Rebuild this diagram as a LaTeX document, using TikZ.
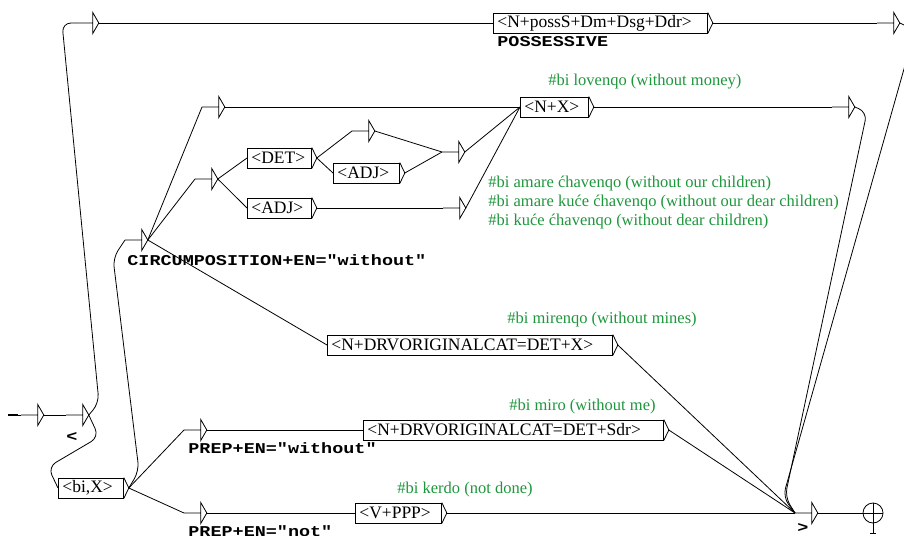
\documentclass[tikz,border=0pt]{standalone}
\usepackage{fontspec}
\setmainfont{Liberation Serif}
\newfontfamily\tagfont[FakeStretch=1.23]{Liberation Mono}
\usetikzlibrary{positioning}
\definecolor{cmtgreen}{RGB}{30,150,60}

\begin{document}
\begin{tikzpicture}[
				x=1pt, y=-1pt,
				line width=0.8pt,
				box/.style={draw, rectangle, anchor=west, minimum height=20pt, inner xsep=4pt, inner ysep=0pt,
					text width=#1, align=left, font=\fontsize{17.5}{20}\selectfont},
				eps/.style={rectangle, anchor=west, minimum width=22pt, minimum height=20pt, inner sep=0pt},
				tag/.style={anchor=base west, inner sep=0pt, font=\fontsize{15}{18}\selectfont\tagfont\bfseries},
				cmt/.style={anchor=base west, inner sep=0pt, text=cmtgreen, font=\fontsize{16.5}{19}\selectfont},
				loop/.style={rounded corners=9pt},
				final/.style={circle, draw, minimum size=20pt, inner sep=0pt}
				]
				\useasboundingbox (0,0) rectangle (904,535);
				
				% boxes
				\node[box=206pt] (poss) at (493,23) {<N+possS+Dm+Dsg+Ddr>};
				\node[box=60pt] (nx) at (520,107) {<N+X>};
				\node[box=56pt] (det) at (247,158) {<DET>};
				\node[box=56pt] (adj) at (247,208) {<ADJ>};
				\node[box=58pt] (adjb) at (333,173) {<ADJ>};
				\node[box=277pt] (drvx) at (327,345) {<N+DRVORIGINALCAT=DET+X>};
				\node[box=292pt] (drvs) at (363,430) {<N+DRVORIGINALCAT=DET+Sdr>};
				\node[box=57pt] (bix) at (58,488) {<bi,X>};
				\node[box=78pt] (vppp) at (355,513) {<V+PPP>};
				
				% empty boxes
				\node[eps] (ti) at (21,415) {};
				\node[eps] (tl) at (66,415) {};
				\node[eps] (tp) at (76,23) {};
				\node[eps] (tc) at (125,240) {};
				\node[eps] (tu) at (202,107) {};
				\node[eps] (td) at (195,179) {};
				\node[eps] (ta) at (352,131) {};
				\node[eps] (tj) at (442,152) {};
				\node[eps] (tb) at (443,208) {};
				\node[eps] (tr) at (832,107) {};
				\node[eps] (tq) at (877,23) {};
				\node[eps] (tw) at (184,430) {};
				\node[eps] (tn) at (184,513) {};
				\node[eps] (tf) at (795,513) {};
				
				% initial and final state
				\coordinate (init) at (8,415);
				\node[final] (fin) at (873,513) {};
				
				% outputs below
				\node[tag] (lpos) at (497,47) {POSSESSIVE};
				\node[tag] (lcirc) at (127,265) {CIRCUMPOSITION+EN="without"};
				\node[tag] (lwith) at (188,453) {PREP+EN="without"};
				\node[tag] (lnot) at (188,536) {PREP+EN="not"};
				\node[tag] (lopen) at (66,441) {<};
				\node[tag] (lclose) at (797,532) {>};
				
				% comments
				\node[cmt] (c1) at (548,85) {\#bi lovenqo (without money)};
				\node[cmt] (c2) at (488,187.5) {\#bi amare ćhavenqo (without our children)};
				\node[cmt] (c3) at (488,206.5) {\#bi amare kuće ćhavenqo (without our dear children)};
				\node[cmt] (c4) at (488,225.5) {\#bi kuće ćhavenqo (without dear children)};
				\node[cmt] (c5) at (507,323) {\#bi mirenqo (without mines)};
				\node[cmt] (c6) at (509,410) {\#bi miro (without me)};
				\node[cmt] (c7) at (397,493) {\#bi kerdo (not done)};
				
				% box tips and triangles
				\foreach \b in {poss,nx,det,adj,adjb,drvx,drvs,bix,vppp}
				\draw (\b.north east) -- ([xshift=5pt]\b.east) coordinate (\b-o) -- (\b.south east);
				\foreach \t in {ti,tl,tp,tc,tu,td,ta,tj,tb,tr,tq,tw,tn,tf}
				\draw (\t.west) -- ([xshift=-6pt]\t.east)
				([xshift=-6pt]\t.north east) -- (\t.east) -- ([xshift=-6pt]\t.south east) -- cycle;
				
				\draw[line width=2.4pt] (init) -- ++(10,0);
				\draw (init) -- (ti.west);
				\draw (fin.west) -- (fin.east);
				\draw (fin.north) -- ([yshift=-10pt]fin.south);
				\draw ([xshift=-3pt,yshift=-10pt]fin.south) -- ([xshift=3pt,yshift=-10pt]fin.south);
				
				% start
				\draw (ti.east) -- (tl.west);
				\draw[loop] (tl.east) -- (99,403) -- (62,23) -- (tp.west);
				\draw[loop] (tl.east) -- (99,437) -- (48,467) -- (bix.west);
				
				% possessive
				\draw (tp.east) -- (poss.west);
				\draw (poss-o) -- (tq.west);
				\draw[loop] (tq.east) -- (915,30) -- (783,497) -- (tf.west);
				
				% circumposition
				\draw[loop] (bix-o) -- (139,471) -- (113,258) -- (tc.west);
				\draw (tc.east) -- (tu.west);
				\draw (tc.east) -- (td.west);
				\draw (tc.east) -- (drvx.west);
				\draw (td.east) -- (det.west);
				\draw (td.east) -- (adj.west);
				\draw (det-o) -- (ta.west);
				\draw (det-o) -- (adjb.west);
				\draw (ta.east) -- (tj.west);
				\draw (adjb-o) -- (tj.west);
				\draw (adj-o) -- (tb.west);
				\draw (tu.east) -- (nx.west);
				\draw (tj.east) -- (nx.west);
				\draw (tb.east) -- (nx.west);
				\draw (nx-o) -- (tr.west);
				\draw[loop] (tr.east) -- (867,112) -- (785,497) -- (tf.west);
				\draw (drvx-o) -- (tf.west);
				
				% prepositions
				\draw (bix-o) -- (tw.west);
				\draw (bix-o) -- (tn.west);
				\draw (tw.east) -- (drvs.west);
				\draw (drvs-o) -- (tf.west);
				\draw (tn.east) -- (vppp.west);
				\draw (vppp-o) -- (tf.west);
				
				% end
				\draw (tf.east) -- (fin.west);
				
			\end{tikzpicture}
\end{document}
